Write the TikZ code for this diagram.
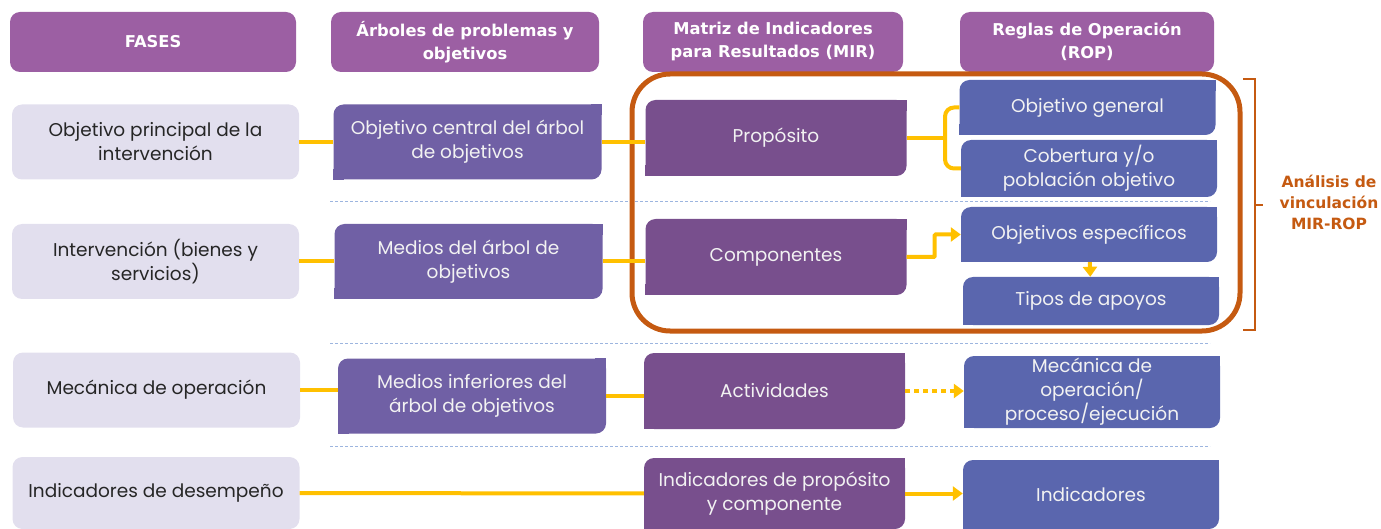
\documentclass[tikz,border=0pt]{standalone}
\usepackage{fontspec}
\setmainfont{Poppins}
\newfontfamily\headfont{DejaVu Sans}
\usetikzlibrary{positioning, calc, arrows.meta}

\definecolor{headcol}{HTML}{9C5FA3}
\definecolor{lightcol}{HTML}{E2DFEE}
\definecolor{arbcol}{HTML}{7060A5}
\definecolor{mircol}{HTML}{784F8D}
\definecolor{ropcol}{HTML}{5A66AE}
\definecolor{linkcol}{HTML}{FFC000}
\definecolor{framecol}{HTML}{C55A11}
\definecolor{sepcol}{HTML}{9DB5DF}

\begin{document}
\begin{tikzpicture}[x=1pt, y=-1pt,
box/.style = {inner sep=0pt, align=center, rounded corners=10pt,
	font=\fontsize{18.5}{24}\selectfont},
head/.style = {box, fill=headcol, text=white, minimum width=#1, minimum height=60pt,
	font=\headfont\bfseries\fontsize{16.3}{23}\selectfont},
fase/.style = {box, fill=lightcol, text=black!85, minimum width=287pt, minimum height=75pt},
arb/.style = {box, fill=arbcol, text=white!95!black, minimum width=268pt, minimum height=75pt},
mir/.style = {box, fill=mircol, text=white!95!black, minimum width=261pt, minimum height=76pt},
rop/.style = {box, fill=ropcol, text=white!95!black, minimum width=256pt, minimum height=#1},
conn/.style = {draw=linkcol, line width=4pt},
arr/.style = {conn, -{Triangle[length=10pt,width=14pt]}},
sep/.style = {draw=sepcol, line width=1pt, dash pattern=on 3pt off 2pt}
]
\useasboundingbox (0,0) rectangle (1381,529);

% Column headers
\node[head=286pt] (h-fas) at (153,42) {FASES};
\node[head=268pt] (h-arb) at (465,42) {Árboles de problemas y\\objetivos};
\node[head=260pt] (h-mir) at (773,42) {Matriz de Indicadores\\para Resultados (MIR)};
\node[head=254pt] (h-rop) at (1087,42) {Reglas de Operación\\(ROP)};

% Phases
\node[fase] (f-1) at (155.5,142) {Objetivo principal de la\\intervención};
\node[fase] (f-2) at (155.5,261.5) {Intervención (bienes y\\servicios)};
\node[fase] (f-3) at (156.5,390) {Mecánica de operación};
\node[fase, minimum height=72pt] (f-4) at (156,493) {Indicadores de desempeño};

% Trees
\node[arb] (a-1) at (467.5,142) {Objetivo central del árbol\\de objetivos};
\node[arb] (a-2) at (468.5,261.5) {Medios del árbol de\\objetivos};
\node[arb] (a-3) at (472,396) {Medios inferiores del\\árbol de objetivos};

% MIR
\node[mir] (m-1) at (776,138) {Propósito};
\node[mir] (m-2) at (776,257) {Componentes};
\node[mir] (m-3) at (774.5,391) {Actividades};
\node[mir, minimum height=71pt] (m-4) at (774.5,493.5) {Indicadores de propósito\\y componente};

% ROP
\node[rop=55pt] (r-1) at (1087.5,107.5) {Objetivo general};
\node[rop=57pt] (r-2) at (1089,168.5) {Cobertura y/o\\población objetivo};
\node[rop=55pt] (r-3) at (1089,234.5) {Objetivos específicos};
\node[rop=48pt] (r-4) at (1091,301) {Tipos de apoyos};
\node[rop=72pt] (r-5) at (1092,392) {Mecánica de\\operación/\\proceso/ejecución};
\node[rop=69pt] (r-6) at (1091,494.5) {Indicadores};

% square off two corners of the shaded boxes
\foreach \n/\c in {a-1/arbcol, a-2/arbcol, a-3/arbcol, m-1/mircol, m-2/mircol,
	m-3/mircol, m-4/mircol, r-1/ropcol, r-2/ropcol, r-3/ropcol, r-4/ropcol,
	r-5/ropcol, r-6/ropcol}
{
	\fill[\c] (\n.north east) rectangle ([xshift=-11pt,yshift=-11pt]\n.north east);
	\fill[\c] (\n.south west) rectangle ([xshift=11pt,yshift=11pt]\n.south west);
}

% Row separators
\foreach \y in {202,343,446}
\draw[sep] (330,\y) -- (1210,\y);

% MIR-ROP frame and brace
\draw[framecol, line width=5pt, rounded corners=38pt] (632,74) rectangle (1240,331);
\draw[framecol, line width=2pt] (1243,79) -- (1255,79) -- (1255,330) -- (1243,330)
	(1255,205) -- (1263,205);
\node[text=framecol, align=center, font=\headfont\bfseries\fontsize{15.5}{21}\selectfont]
	(vinc) at (1329,202) {Análisis de\\vinculación\\MIR-ROP};

% Links
\draw[conn] (f-1) -- (a-1);
\draw[conn] (a-1.east) -- (a-1.east -| m-1.west);
\draw[conn] (f-2) -- (a-2);
\draw[conn] (a-2.east) -- (a-2.east -| m-2.west);
\draw[conn] (f-3.east) -- (f-3.east -| a-3.west);
\draw[conn] (a-3.east) -- (a-3.east -| m-3.west);
\draw[conn] (f-4) -- (m-4);
\coordinate (tip) at (945,138);
\draw[conn] (m-1) -- (tip);
\draw[conn, rounded corners=9pt] (r-1.west) -| (tip) |- (r-2.west);
\draw[arr, rounded corners=1pt] (m-2.east) -- ++(28,0) |- (r-3.west);
\draw[arr] (r-3) -- (r-4);
\draw[arr, dash pattern=on 5pt off 4pt] (m-3) -- (m-3 -| r-5.west);
\draw[arr] (m-4.east) -- (m-4.east -| r-6.west);
\end{tikzpicture}
\end{document}
